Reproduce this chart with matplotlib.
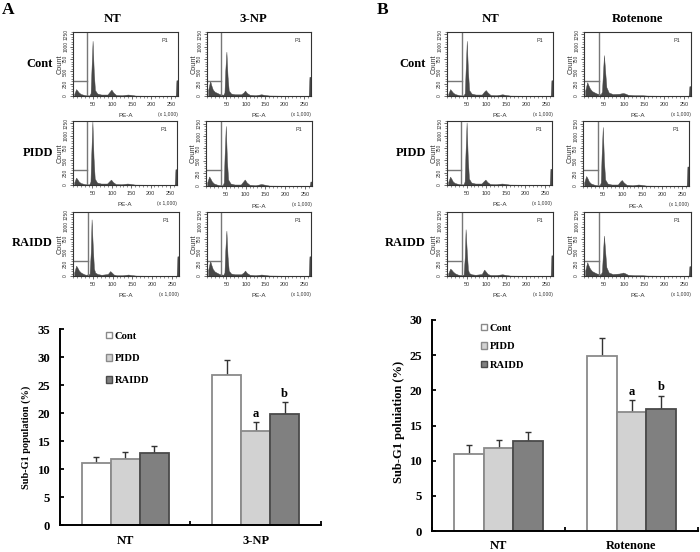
import matplotlib
matplotlib.use("Agg")
import matplotlib.pyplot as plt
from matplotlib.patches import Patch
from matplotlib.ticker import MultipleLocator

W = 700
H = 552

# flow cytometry histograms
hist_x = [3, 8, 11, 15, 20, 27, 32, 42, 45, 47, 50, 53, 56, 62, 72, 88, 94, 98, 103, 110, 125, 140, 146, 160, 200, 262, 264, 267]
a_nt_cont = [40, 140, 110, 70, 40, 25, 15, 12, 60, 500, 1120, 500, 120, 50, 30, 30, 90, 130, 70, 20, 15, 30, 25, 8, 5, 5, 320, 320]
a_np_cont = [120, 310, 220, 130, 85, 60, 40, 25, 70, 500, 900, 400, 110, 50, 35, 35, 70, 110, 60, 25, 15, 35, 25, 10, 5, 5, 390, 390]
a_nt_pidd = [50, 150, 120, 70, 40, 25, 15, 12, 70, 600, 1290, 550, 130, 50, 30, 30, 80, 110, 60, 20, 15, 30, 25, 8, 5, 5, 320, 320]
a_np_pidd = [70, 190, 150, 90, 50, 30, 20, 15, 70, 600, 1200, 500, 130, 50, 30, 30, 90, 130, 70, 25, 15, 40, 30, 8, 5, 5, 90, 90]
a_nt_raidd = [70, 210, 170, 110, 70, 40, 25, 40, 500, 1150, 600, 150, 70, 40, 25, 40, 100, 70, 30, 15, 15, 30, 20, 8, 5, 5, 400, 400]
a_np_raidd = [120, 310, 230, 140, 90, 60, 40, 25, 70, 500, 920, 400, 110, 50, 35, 35, 70, 110, 60, 25, 15, 30, 25, 10, 5, 5, 400, 400]
b_nt_cont = [40, 140, 110, 70, 40, 25, 15, 12, 60, 500, 1120, 500, 120, 50, 30, 30, 90, 120, 70, 20, 15, 35, 25, 8, 5, 5, 320, 320]
b_rot_cont = [110, 280, 220, 150, 100, 70, 50, 35, 90, 400, 830, 500, 180, 70, 40, 45, 55, 60, 50, 25, 15, 15, 15, 8, 5, 5, 200, 200]
b_nt_pidd = [60, 170, 130, 70, 40, 25, 15, 12, 70, 600, 1270, 550, 130, 50, 30, 30, 80, 110, 60, 20, 15, 30, 25, 8, 5, 5, 330, 330]
b_rot_pidd = [70, 200, 160, 90, 50, 30, 20, 15, 70, 600, 1180, 500, 130, 50, 30, 30, 90, 120, 70, 25, 15, 30, 25, 8, 5, 5, 390, 390]
b_nt_raidd = [50, 150, 130, 90, 55, 30, 20, 25, 400, 950, 500, 130, 60, 35, 25, 40, 130, 90, 40, 20, 20, 35, 25, 8, 5, 5, 420, 420]
b_rot_raidd = [110, 280, 220, 150, 100, 70, 50, 35, 90, 400, 820, 500, 180, 70, 40, 50, 60, 70, 55, 25, 15, 15, 15, 8, 5, 5, 200, 200]

hist_xticks = [50, 100, 150, 200, 250]
hist_yticks = [0, 250, 500, 750, 1000, 1250]

# bar charts
series = ["Cont", "PIDD", "RAIDD"]
a_groups = ["NT", "3-NP"]
a_means = [[11, 26.8], [11.8, 16.7], [12.8, 19.9]]
a_errs = [[1.1, 2.7], [1.2, 1.7], [1.3, 2.0]]
a_letters = [("a", 1, 1), ("b", 1, 2)]
b_groups = ["NT", "Rotenone"]
b_means = [[11, 24.9], [11.8, 16.9], [12.8, 17.4]]
b_errs = [[1.2, 2.5], [1.2, 1.7], [1.3, 1.8]]
b_letters = [("a", 1, 1), ("b", 1, 2)]

fills = ["white", "#d2d2d2", "#808080"]
edges = ["#8a8a8a", "#8a8a8a", "#4a4a4a"]

plt.rcParams["font.family"] = ["Liberation Serif", "DejaVu Serif"]
fig = plt.figure(figsize=(W / 100, H / 100), dpi=100)


def box(left, top, right, bottom):
    # axes from pixel corners of the picture
    return fig.add_axes([left / W, 1 - bottom / H, (right - left) / W, (bottom - top) / H])


def label(x, y, s, size=10, ha="center", **kw):
    fig.text(x / W, 1 - y / H, s, fontsize=size, fontweight="bold", ha=ha, va="center", **kw)


def histogram(rect, counts):
    ax = box(*rect)
    ax.fill_between(hist_x, counts, color="#474747", lw=0.3)
    ax.set_xlim(0, 268)
    ax.set_ylim(0, 1300)
    # P1 gate
    ax.plot([37, 37], [0, 1300], color="#777777", lw=1)
    ax.plot([0, 37], [310, 310], color="#777777", lw=1)
    ax.text(0.84, 0.84, "P1", transform=ax.transAxes, fontsize=4, family="Liberation Sans", color="#333333")
    ax.set_xticks(hist_xticks)
    ax.set_yticks(hist_yticks)
    ax.xaxis.set_minor_locator(MultipleLocator(10))
    ax.yaxis.set_minor_locator(MultipleLocator(50))
    ax.tick_params(which="major", length=2.5, width=0.5, pad=1, labelsize=3.5, colors="#333333")
    ax.tick_params(axis="x", which="major", pad=2, labelsize=4)
    ax.tick_params(which="minor", length=1.3, width=0.4, colors="#333333")
    for t in ax.get_xticklabels():
        t.set_family("Liberation Sans")
    for t in ax.get_yticklabels():
        t.set_family("Liberation Sans")
        t.set_rotation(90)
        t.set_va("center")
    for s in ax.spines.values():
        s.set_linewidth(0.8)
        s.set_color("#333333")
    ax.text(-0.12, 0.5, "Count", transform=ax.transAxes, rotation=90, fontsize=5.3,
            family="Liberation Sans", ha="center", va="center", color="#333333")
    ax.text(0.5, -0.31, "PE-A", transform=ax.transAxes, fontsize=4.5,
            family="Liberation Sans", ha="center", va="center", color="#333333")
    ax.text(1.0, -0.29, "(x 1,000)", transform=ax.transAxes, fontsize=3.6,
            family="Liberation Sans", ha="right", va="center", color="#333333")


def bars(rect, groups, means, errs, letters, ymax, ylab, lab_size, lab_x, lab_y, legend_pos, legend_gap, group_y):
    ax = box(*rect)
    width = 0.222
    for i in range(3):
        xs = [g + (i - 1) * width for g in range(2)]
        ax.bar(xs, means[i], width, color=fills[i], edgecolor=edges[i], linewidth=1.3, zorder=2)
        ax.errorbar(xs, means[i], yerr=[[0, 0], errs[i]], fmt="none", ecolor="#333333",
                    elinewidth=1, capsize=2, capthick=1, zorder=1)
    for s, g, i in letters:
        ax.text(g + (i - 1) * width, means[i][g] + errs[i][g] + ymax * 0.012, s,
                fontsize=9, fontweight="bold", ha="center", va="bottom")
    ax.set_xlim(-0.5, 1.5)
    ax.set_ylim(0, ymax)
    ax.set_xticks([-0.5, 0.5, 1.5])
    ax.set_xticklabels([])
    ax.yaxis.set_major_locator(MultipleLocator(5))
    ax.tick_params(axis="y", direction="in", length=3, width=1.3, labelsize=9.2, pad=7)
    ax.tick_params(axis="x", direction="in", length=3, width=1.3)
    for t in ax.get_yticklabels():
        t.set_fontweight("bold")
    ax.spines["top"].set_visible(False)
    ax.spines["right"].set_visible(False)
    ax.spines["left"].set_linewidth(1.4)
    ax.spines["bottom"].set_linewidth(1.4)
    handles = [Patch(facecolor=fills[i], edgecolor=edges[i], label=series[i]) for i in range(3)]
    ax.legend(handles=handles, loc="upper left", bbox_to_anchor=legend_pos, frameon=False,
              handlelength=0.55, handleheight=0.55, handletextpad=0.3, labelspacing=legend_gap,
              borderpad=0, borderaxespad=0, prop={"weight": "bold", "size": 7.6})
    for g, name in enumerate(groups):
        px = rect[0] + (g + 0.5) * (rect[2] - rect[0]) / 2
        label(px, group_y, name, 9)
    label(lab_x, lab_y, ylab, lab_size, rotation=90)


# panel A histograms
histogram((73, 32, 178, 96), a_nt_cont)
histogram((207, 32, 311, 96), a_np_cont)
histogram((73, 121, 177, 185), a_nt_pidd)
histogram((206, 121, 312, 186), a_np_pidd)
histogram((73, 212, 179, 276), a_nt_raidd)
histogram((207, 212, 311, 276), a_np_raidd)

# panel B histograms
histogram((447, 32, 553, 96), b_nt_cont)
histogram((584, 32, 691, 96), b_rot_cont)
histogram((447, 121, 552, 185), b_nt_pidd)
histogram((583, 121, 689, 186), b_rot_pidd)
histogram((447, 212, 553, 276), b_nt_raidd)
histogram((584, 212, 691, 276), b_rot_raidd)

# bar charts at the bottom
bars((60, 329, 321, 525), a_groups, a_means, a_errs, a_letters, 35,
     "Sub-G1 population (%)", 7.4, 26, 437, (0.176, 0.985), 1.25, 541)
bars((432, 320, 698, 531), b_groups, b_means, b_errs, b_letters, 30,
     "Sub-G1 poluiation (%)", 9, 399, 422, (0.184, 0.983), 0.9, 546)

# headers
label(2, 10, "A", 12.5, ha="left")
label(377, 10, "B", 12.5, ha="left")
label(113, 19, "NT", 9.2)
label(253, 19, "3-NP", 9.2)
label(491, 19, "NT", 9.2)
label(638, 19, "Rotenone", 9.2)
for name, y in zip(series, [64, 153, 243]):
    label(53, y, name, 9, ha="right")
    label(426, y, name, 9, ha="right")

fig.savefig("out.png", dpi=100)
